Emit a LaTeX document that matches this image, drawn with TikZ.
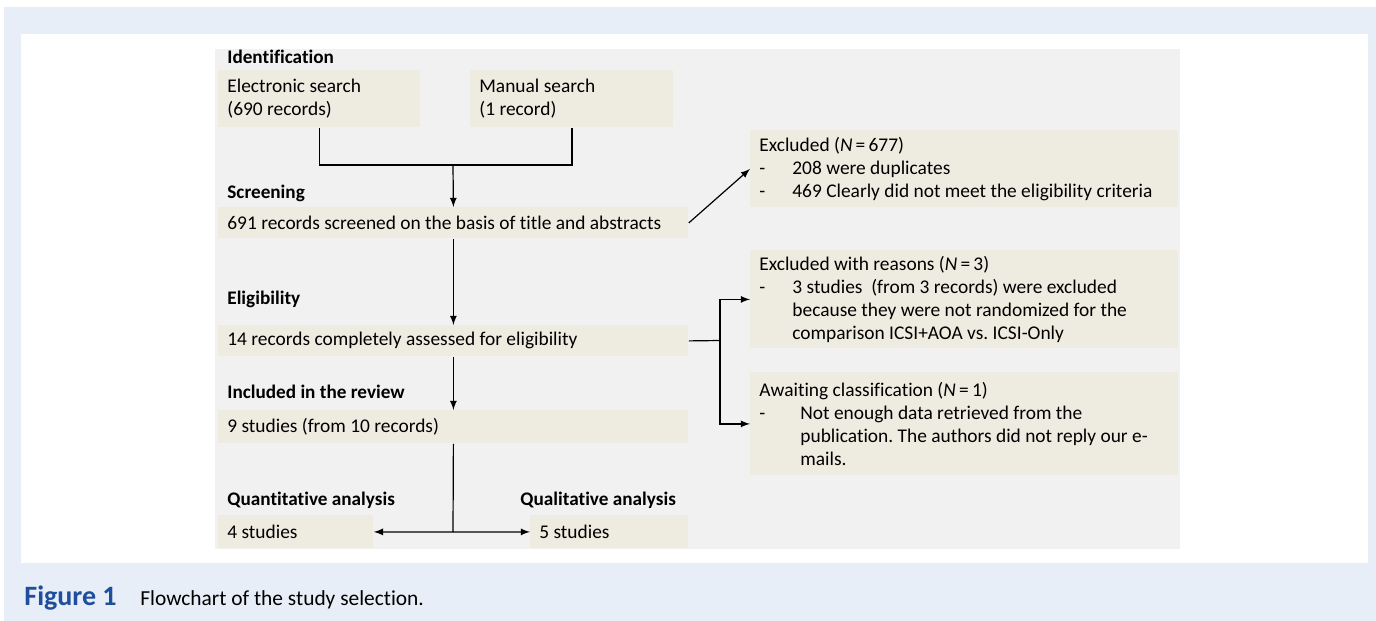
\documentclass[tikz,border=0pt]{standalone}
\usepackage{fontspec}
\setmainfont{Carlito}[Ligatures=NoCommon]
\usepackage{xcolor}
\usepackage{tikz}
\definecolor{fondbleu}{HTML}{E7EEF8}
\definecolor{fondgris}{HTML}{F1F1F1}
\definecolor{beige}{HTML}{EEEBE0}
\definecolor{bleufig}{HTML}{1F4E9C}
\newcommand{\tiret}[1]{\makebox[#1][l]{-}}
\frenchspacing

\begin{document}
\begin{tikzpicture}[x=0.5pt,y=-0.5pt]
% Styles (MODIFIABLES)
\tikzstyle{fleche}=[->,>=latex,line width=0.6pt]
\tikzstyle{trait}=[line width=0.6pt]
\tikzstyle{boite}=[fill=beige,anchor=north west,inner xsep=4.5pt,inner ysep=0pt,align=flush left,font=\fontsize{9.7}{11.5}\selectfont]
\tikzstyle{titre}=[anchor=west,inner sep=0pt,font=\fontsize{9.6}{11.5}\selectfont\bfseries]
% Fonds
\useasboundingbox (0,0) rectangle (1376,621);
\fill[white] (0,0) rectangle (1376,621);
\fill[fondbleu] (4,7) rectangle (1376,621);
\fill[white] (21,34) rectangle (1368,563);
\fill[fondgris] (215,49) rectangle (1180,549);
% Titres
\node[titre] (tIdent) at (227,57) {Identification};
\node[titre] (tScreen) at (227,193) {Screening};
\node[titre] (tElig) at (227,299) {Eligibility};
\node[titre] (tIncl) at (227,392) {Included in the review};
\node[titre] (tQuant) at (227,500) {Quantitative analysis};
\node[titre] (tQual) at (520,500) {Qualitative analysis};
% Boites
\node[boite,text width=92pt,minimum height=28.5pt] (elec) at (218,70) {Electronic search\\(690 records)};
\node[boite,text width=92.5pt,minimum height=28.5pt] (manu) at (470,70) {Manual search\\(1 record)};
\node[boite,text width=226pt,minimum height=15.5pt] (screen) at (218,207) {691 records screened on the basis of title and abstracts};
\node[boite,text width=226pt,minimum height=15.5pt] (elig) at (218,325) {14 records completely assessed for eligibility};
\node[boite,text width=226pt,minimum height=16.5pt] (incl) at (218,410) {9 studies (from 10 records)};
\node[boite,text width=68.5pt,minimum height=16.5pt] (quant) at (218,515) {4 studies};
\node[boite,text width=70pt,minimum height=16.5pt] (qual) at (530,515) {5 studies};
\node[boite,text width=205pt,minimum height=38.5pt] (excl) at (750,130) {Excluded (\textit{N}\,=\,677)\\
  \tiret{16.5pt}208 were duplicates\\
  \tiret{16.5pt}469 Clearly did not meet the eligibility criteria};
\node[boite,text width=205pt,minimum height=49pt] (raisons) at (750,250) {Excluded with reasons (\textit{N}\,=\,3)\\
  \tiret{16.5pt}3 studies\ \ (from 3 records) were excluded\\
  \hspace*{16.5pt}because they were not randomized for the\\
  \hspace*{16.5pt}comparison ICSI+AOA vs. ICSI-Only};
\node[boite,text width=205pt,minimum height=51.5pt] (attente) at (750,372) {Awaiting classification (\textit{N}\,=\,1)\\
  \tiret{20.5pt}Not enough data retrieved from the\\
  \hspace*{20.5pt}publication. The authors did not reply our e-\\
  \hspace*{20.5pt}mails.};
% Points de jonction
\coordinate (jonction) at (453,165);
\coordinate (aiguillage) at (720,340.5);
\coordinate (fourche) at (453,532);
% Arcs
\draw[trait] (elec.south) |- (jonction) -| (manu.south);
\draw[fleche] (jonction)--(screen.north);
\draw[fleche] (screen.east)--(excl.west);
\draw[fleche] (screen.south)--(elig.north);
\draw[trait] (elig.east)--(aiguillage);
\draw[fleche] (aiguillage) |- (raisons.west);
\draw[fleche] (aiguillage) |- (attente.west);
\draw[fleche] (elig.south)--(incl.north);
\draw[trait] (incl.south)--(fourche);
\draw[fleche] (fourche)--(quant.east);
\draw[fleche] (fourche)--(qual.west);
% Legende
\node[anchor=base west,inner sep=0pt,font=\fontsize{14}{16}\selectfont\bfseries,text=bleufig] (numfig) at (24,605) {Figure 1};
\node[anchor=base west,inner sep=0pt,font=\fontsize{10.7}{13}\selectfont] (legende) at (140,605) {Flowchart of the study selection.};
\end{tikzpicture}
\end{document}
